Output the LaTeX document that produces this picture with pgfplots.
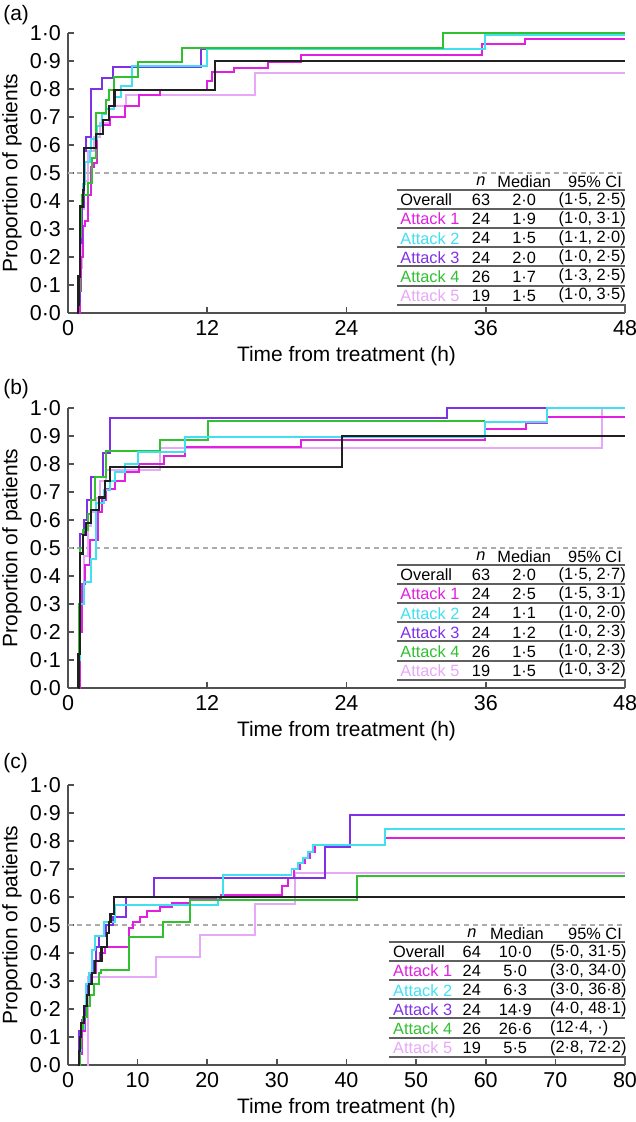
\documentclass[border=0pt]{standalone}
\usepackage{fontspec}
\setmainfont{Liberation Sans}
\usepackage{pgfplots}
\pgfplotsset{compat=1.18}
\definecolor{cA1}{HTML}{E020E0}
\definecolor{cA2}{HTML}{40E0F0}
\definecolor{cA3}{HTML}{8030E8}
\definecolor{cA4}{HTML}{30C030}
\definecolor{cA5}{HTML}{E8A8F8}
\definecolor{cOv}{HTML}{202020}
\definecolor{axisgray}{HTML}{505050}
\definecolor{tabline}{HTML}{606060}
\newcommand{\tabfont}{\fontsize{8.2}{9.5}\selectfont}
\newcommand{\lblfont}{\fontsize{10.5}{12}\selectfont}
\newcommand{\ticfont}{\fontsize{10.8}{12}\selectfont}
\newcommand{\tabX}{0.591}
\newcommand{\tabL}{0.596}
\newcommand{\tabM}{0.819}
\newcommand{\tabH}{0.819}
\newcommand{\tabN}{0.7415}
\newcommand{\tabC}{0.880}
\newcommand{\trow}[6]{%
 \node[anchor=west,text=#2,inner sep=0pt,font=\tabfont] at (rel axis cs:\tabL,{0.404-0.0685*#1}) {#3};
 \node[anchor=center,inner sep=0pt,font=\tabfont] at (rel axis cs:\tabN,{0.404-0.0685*#1}) {#4};
 \node[anchor=center,inner sep=0pt,font=\tabfont] at (rel axis cs:\tabM,{0.404-0.0685*#1}) {#5};
 \node[anchor=west,inner sep=0pt,font=\tabfont] at (rel axis cs:\tabC,{0.404-0.0685*#1}) {#6};
}
\newcommand{\thead}{%
 \node[anchor=center,inner sep=0pt,font=\tabfont] at (rel axis cs:\tabN,0.470) {\textit{n}};
 \node[anchor=center,inner sep=0pt,font=\tabfont] at (rel axis cs:\tabH,0.470) {Median};
 \node[anchor=east,inner sep=0pt,font=\tabfont] at (rel axis cs:0.995,0.470) {95\% CI};
 \draw[tabline,line width=1pt] (rel axis cs:\tabX,0.441) -- (rel axis cs:1,0.441);
 \draw[tabline,line width=1pt] (rel axis cs:\tabX,0.372) -- (rel axis cs:1,0.372);
 \draw[tabline,line width=1pt] (rel axis cs:\tabX,0.3035) -- (rel axis cs:1,0.3035);
 \draw[tabline,line width=1pt] (rel axis cs:\tabX,0.235) -- (rel axis cs:1,0.235);
 \draw[tabline,line width=1pt] (rel axis cs:\tabX,0.1665) -- (rel axis cs:1,0.1665);
 \draw[tabline,line width=1pt] (rel axis cs:\tabX,0.098) -- (rel axis cs:1,0.098);
 \draw[tabline,line width=1pt] (rel axis cs:\tabX,0.0295) -- (rel axis cs:1,0.0295) -- (rel axis cs:1,0);
}
\pgfplotsset{
 kmaxis/.style={
  scale only axis, width=278.5bp, height=140bp,
  anchor=south west,
  axis x line*=bottom, axis y line*=left,
  axis line style={-,line width=0.8pt,color=axisgray},
  ymin=0, ymax=1,
  ytick={0,0.1,0.2,0.3,0.4,0.5,0.6,0.7,0.8,0.9,1.0},
  yticklabels={0·0,0·1,0·2,0·3,0·4,0·5,0·6,0·7,0·8,0·9,1·0},
  tick align=inside,
  major tick length=3bp,
  tick style={line width=0.8pt,color=axisgray},
  tick label style={font=\ticfont},
  clip=false,
  ylabel={Proportion of patients},
  xlabel={Time from treatment (h)},
  every axis y label/.style={at={(axis description cs:0,0.5)},xshift=-28bp,rotate=90,anchor=center,font=\lblfont},
  every axis x label/.style={at={(axis description cs:0.5,0)},yshift=-21.5bp,anchor=center,font=\lblfont},
  const plot,
  every axis plot/.append style={line width=1pt},
 },
 ax48/.style={xmin=0,xmax=48,xtick={0,12,24,36,48},xticklabels={0,12,24,36,48}},
 halfline/.style={gray!65,line width=0.6pt,dash pattern=on 2.5bp off 2bp},
}
\begin{document}
\begin{tikzpicture}
\useasboundingbox (0,0) rectangle (318bp,561bp);
\node[anchor=west,inner sep=0pt,font=\lblfont] at (1.5bp,553.5bp) {(a)};
\node[anchor=west,inner sep=0pt,font=\lblfont] at (1.5bp,366.5bp) {(b)};
\node[anchor=west,inner sep=0pt,font=\lblfont] at (1.5bp,179.5bp) {(c)};
% ---------------- (a)
\begin{axis}[kmaxis,ax48,at={(34bp,404.5bp)}]
\addplot[halfline] coordinates {(0,0.5) (48,0.5)};
\addplot[cA5] coordinates {(0.85,0) (1.0,0.16) (1.2,0.37) (1.4,0.47) (1.7,0.58) (2.2,0.63) (2.8,0.68) (3.5,0.74) (5.0,0.78) (16.1,0.856) (48,0.856)};
\addplot[cA1] coordinates {(0.9,0) (1.0,0.08) (1.1,0.2) (1.25,0.31) (1.5,0.33) (1.75,0.42) (2.0,0.52) (2.2,0.537) (2.5,0.64) (3.0,0.67) (3.6,0.70) (4.9,0.74) (6.1,0.78) (7.9,0.797) (12.0,0.83) (12.4,0.86) (14.3,0.875) (17.2,0.895) (20.1,0.92) (35.7,0.962) (39.4,0.98) (48,0.98)};
\addplot[cA3] coordinates {(0.85,0) (0.9,0.04) (1.0,0.25) (1.2,0.38) (1.4,0.58) (1.55,0.63) (2.0,0.80) (2.9,0.84) (3.9,0.88) (11.5,0.944) (32.3,1.0) (48,1.0)};
\addplot[cA2] coordinates {(0.85,0) (0.9,0.1) (1.0,0.38) (1.3,0.46) (1.5,0.54) (1.9,0.58) (2.0,0.62) (2.5,0.667) (2.9,0.71) (3.3,0.73) (4.0,0.77) (4.6,0.81) (5.5,0.882) (11.95,0.944) (35.9,0.993) (48,0.993)};
\addplot[cA4] coordinates {(0.85,0) (0.9,0.08) (1.0,0.27) (1.1,0.38) (1.2,0.42) (1.75,0.466) (2.04,0.554) (2.4,0.716) (3.3,0.76) (3.5,0.797) (4.0,0.844) (6.0,0.897) (9.8,0.948) (32.3,1.0) (48,1.0)};
\addplot[cOv,line width=1.1pt] coordinates {(0.8,0) (0.85,0.03) (0.9,0.13) (1.05,0.38) (1.3,0.44) (1.4,0.59) (2.4,0.64) (3.0,0.69) (3.5,0.74) (4.0,0.797) (12.7,0.90) (48,0.90)};
\thead
\trow{0}{black}{Overall}{63}{2·0}{(1·5, 2·5)}
\trow{1}{cA1}{Attack 1}{24}{1·9}{(1·0, 3·1)}
\trow{2}{cA2}{Attack 2}{24}{1·5}{(1·1, 2·0)}
\trow{3}{cA3}{Attack 3}{24}{2·0}{(1·0, 2·5)}
\trow{4}{cA4}{Attack 4}{26}{1·7}{(1·3, 2·5)}
\trow{5}{cA5}{Attack 5}{19}{1·5}{(1·0, 3·5)}
\end{axis}
% ---------------- (b)
\begin{axis}[kmaxis,ax48,at={(34bp,217bp)}]
\addplot[halfline] coordinates {(0,0.5) (48,0.5)};
\addplot[cA5] coordinates {(0.9,0) (1.0,0.26) (1.2,0.37) (1.4,0.47) (1.7,0.58) (2.0,0.63) (2.4,0.68) (2.8,0.74) (3.3,0.78) (7.9,0.856) (46.0,1.0) (48,1.0)};
\addplot[cA1] coordinates {(0.9,0) (1.0,0.2) (1.2,0.37) (1.5,0.44) (1.9,0.53) (2.6,0.63) (2.9,0.67) (3.3,0.71) (4.05,0.74) (4.9,0.77) (6.1,0.80) (8.3,0.83) (10.1,0.86) (20.1,0.886) (35.9,0.924) (39.5,0.948) (41.3,0.969) (48,0.969)};
\addplot[cA3] coordinates {(0.85,0) (0.95,0.3) (1.0,0.55) (1.4,0.6) (1.6,0.67) (1.95,0.755) (3.0,0.84) (3.6,0.964) (32.7,1.0) (48,1.0)};
\addplot[cA4] coordinates {(0.85,0) (0.95,0.3) (1.0,0.50) (1.3,0.564) (1.7,0.62) (2.0,0.67) (2.3,0.755) (3.3,0.846) (7.9,0.885) (12.1,0.955) (35.9,0.955)};
\addplot[cA2] coordinates {(0.85,0) (0.9,0.1) (1.0,0.30) (1.4,0.38) (2.0,0.46) (2.4,0.66) (3.1,0.707) (3.6,0.74) (4.05,0.77) (4.9,0.80) (6.05,0.844) (10.1,0.898) (35.9,0.95) (41.3,1.0) (48,1.0)};
\addplot[cOv,line width=1.1pt] coordinates {(0.85,0) (0.9,0.12) (1.0,0.31) (1.05,0.48) (1.3,0.546) (1.55,0.59) (2.0,0.636) (2.7,0.68) (3.2,0.74) (3.6,0.79) (23.6,0.90) (48,0.90)};
\thead
\trow{0}{black}{Overall}{63}{2·0}{(1·5, 2·7)}
\trow{1}{cA1}{Attack 1}{24}{2·5}{(1·5, 3·1)}
\trow{2}{cA2}{Attack 2}{24}{1·1}{(1·0, 2·0)}
\trow{3}{cA3}{Attack 3}{24}{1·2}{(1·0, 2·3)}
\trow{4}{cA4}{Attack 4}{26}{1·5}{(1·0, 2·3)}
\trow{5}{cA5}{Attack 5}{19}{1·5}{(1·0, 3·2)}
\end{axis}
% ---------------- (c)
\renewcommand{\tabX}{0.576}
\renewcommand{\tabL}{0.583}
\renewcommand{\tabM}{0.803}
\renewcommand{\tabH}{0.806}
\renewcommand{\tabN}{0.725}
\renewcommand{\tabC}{0.865}
\begin{axis}[kmaxis,at={(34bp,28.5bp)},xmin=0,xmax=80,xtick={0,10,20,30,40,50,60,70,80},xticklabels={0,10,20,30,40,50,60,70,80}]
\addplot[halfline] coordinates {(0,0.5) (80,0.5)};
\addplot[cA5] coordinates {(2.8,0) (2.85,0.316) (12.7,0.387) (19.0,0.465) (26.9,0.575) (32.6,0.685) (80,0.685)};
\addplot[cA1] coordinates {(1.5,0) (1.7,0.04) (2.0,0.12) (2.4,0.21) (2.8,0.29) (3.3,0.33) (4.0,0.37) (4.6,0.40) (5.3,0.42) (8.7,0.49) (9.3,0.51) (10.3,0.53) (11.3,0.55) (13.2,0.565) (15.0,0.58) (17.5,0.595) (22.0,0.607) (30.7,0.64) (31.6,0.667) (32.5,0.70) (33.3,0.72) (34.0,0.74) (34.8,0.76) (35.5,0.786) (45.5,0.81) (80,0.81)};
\addplot[cA3] coordinates {(1.5,0) (1.6,0.12) (2.0,0.16) (2.5,0.21) (2.8,0.29) (3.2,0.33) (3.6,0.37) (4.0,0.42) (4.5,0.46) (5.5,0.50) (6.5,0.53) (8.4,0.60) (12.4,0.667) (36.9,0.78) (40.5,0.893) (80,0.893)};
\addplot[cA2] coordinates {(1.5,0) (1.6,0.05) (1.9,0.13) (2.3,0.21) (2.6,0.29) (3.0,0.33) (3.4,0.41) (3.9,0.46) (5.1,0.51) (6.7,0.57) (21.6,0.60) (22.2,0.68) (32.1,0.70) (33.0,0.72) (33.7,0.74) (34.5,0.76) (35.2,0.786) (45.5,0.842) (80,0.842)};
\addplot[cA4] coordinates {(1.5,0) (1.7,0.06) (1.9,0.13) (2.2,0.17) (2.8,0.21) (3.2,0.25) (3.7,0.29) (4.4,0.33) (4.8,0.34) (8.7,0.458) (13.7,0.51) (17.5,0.59) (41.5,0.675) (80,0.675)};
\addplot[cOv,line width=1.1pt] coordinates {(1.5,0) (1.55,0.05) (1.7,0.10) (1.9,0.15) (2.3,0.21) (2.7,0.25) (3.0,0.29) (3.4,0.33) (3.9,0.37) (4.8,0.42) (5.6,0.47) (5.9,0.51) (6.1,0.54) (6.6,0.60) (80,0.60)};
\thead
\trow{0}{black}{Overall}{64}{10·0}{(5·0, 31·5)}
\trow{1}{cA1}{Attack 1}{24}{5·0}{(3·0, 34·0)}
\trow{2}{cA2}{Attack 2}{24}{6·3}{(3·0, 36·8)}
\trow{3}{cA3}{Attack 3}{24}{14·9}{(4·0, 48·1)}
\trow{4}{cA4}{Attack 4}{26}{26·6}{(12·4, ·)}
\trow{5}{cA5}{Attack 5}{19}{5·5}{(2·8, 72·2)}
\end{axis}
\end{tikzpicture}
\end{document}
